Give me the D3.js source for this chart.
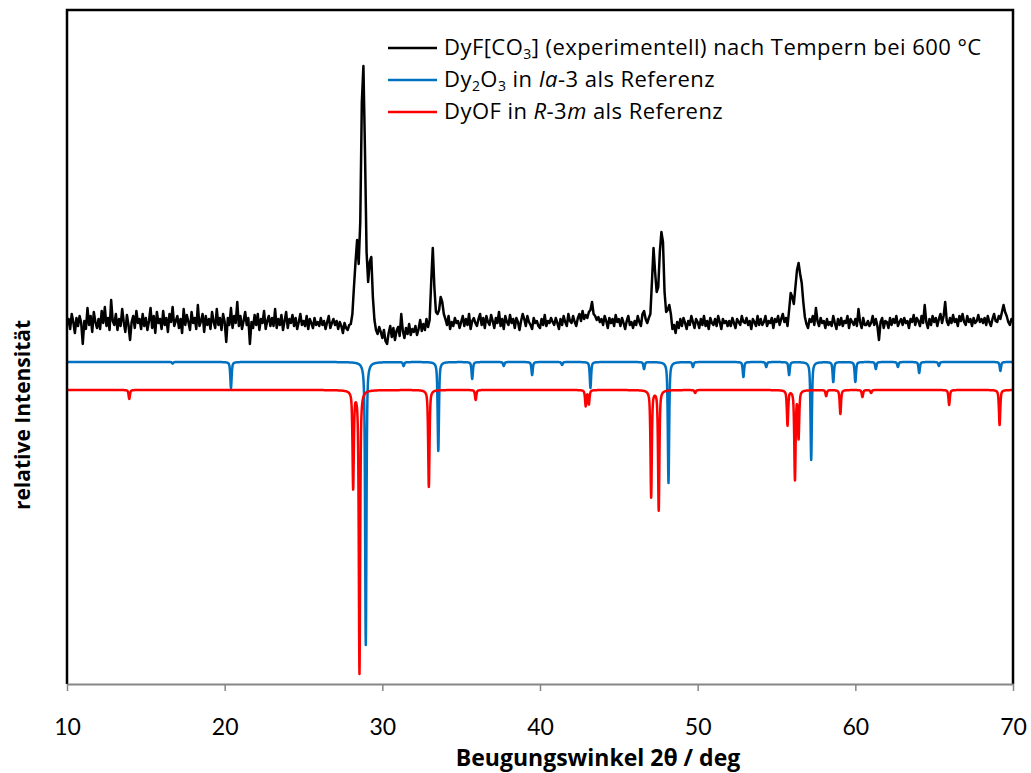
<!DOCTYPE html>
<html>
<head>
<meta charset="utf-8">
<script src="https://cdn.jsdelivr.net/npm/d3@7"></script>
<style>
  html, body { margin: 0; padding: 0; background: #fff; }
  svg { display: block; }
  text { font-family: "Open Sans", Lato, sans-serif; fill: #000; }
</style>
</head>
<body>
<svg id="chart" width="1031" height="773"></svg>
<script>
// ---- Data -------------------------------------------------------------
// 2θ range and tick labels
const xTicks = [10, 20, 30, 40, 50, 60, 70];

// Experimental pattern: 2θ start/step and counts (one row per degree)
const expStart = 10.0;
const expStep = 0.1;
const expCounts = [
  57,63,53,68,60,49,64,56,66,59,
  38,61,53,74,57,66,50,70,60,54,
  63,53,71,59,75,56,64,52,82,61,
  57,68,52,63,56,73,60,50,67,57,
  42,60,66,54,71,59,63,53,68,56,
  64,52,61,74,54,66,49,70,59,63,
  53,71,57,64,50,68,60,75,56,61,
  66,54,63,49,73,57,67,60,52,70,
  59,64,53,77,56,61,68,50,66,57,
  63,53,70,60,54,73,57,64,52,68,
  60,40,64,57,74,54,66,59,80,56,
  66,53,61,70,57,64,38,60,54,67,
  57,68,52,63,59,71,53,61,66,56,
  64,56,73,54,63,57,67,52,61,70,
  54,63,59,67,56,64,53,60,68,57,
  61,56,66,53,63,59,54,64,57,60,
  56,64,57,61,53,60,66,54,59,63,
  57,61,53,60,56,49,59,54,52,57,
  58,68,95,120,142,118,160,280,316,230,
  130,100,120,125,85,62,52,48,55,50,
  44,52,41,38,49,56,45,54,42,51,
  55,46,68,51,44,54,48,58,47,53,
  50,56,47,53,62,51,58,52,63,55,
  62,100,134,95,70,68,72,85,80,68,
  63,57,66,53,60,56,64,59,61,54,
  60,66,56,63,57,68,53,61,64,59,
  56,63,68,57,64,54,66,60,57,67,
  61,54,64,59,70,56,63,53,66,60,
  57,67,59,63,54,64,60,52,61,68,
  63,56,66,60,57,53,64,59,61,56,
  54,63,57,67,56,61,59,64,60,57,
  64,59,53,63,57,66,60,56,68,61,
  59,66,60,56,64,68,61,71,63,67,
  64,70,72,80,68,66,62,65,60,63,
  57,66,61,54,64,59,63,56,67,60,
  63,56,64,59,53,61,66,57,60,54,
  61,57,66,60,56,68,71,63,59,64,
  68,100,134,110,90,95,130,150,140,90,
  70,72,77,68,53,57,49,60,54,63,
  56,64,59,53,61,57,66,60,54,63,
  60,54,63,57,66,56,61,53,64,59,
  57,63,56,66,60,53,63,59,61,56,
  61,56,64,59,54,63,60,57,66,60,
  59,64,57,61,53,63,60,56,66,57,
  63,57,60,66,56,61,59,64,54,63,
  60,66,57,63,68,60,64,56,72,89,
  85,78,95,112,119,108,99,80,65,58,
  54,63,60,66,57,74,61,56,64,59,
  61,54,63,57,60,56,66,59,53,63,
  57,64,56,61,59,66,54,63,60,57,
  63,56,73,60,54,64,57,57,61,56,
  59,66,57,63,56,42,60,64,54,61,
  60,54,64,57,63,59,66,56,60,63,
  57,64,59,61,54,63,60,67,57,64,
  61,56,66,59,77,60,54,63,57,66,
  60,64,56,63,68,59,66,80,61,57,
  64,59,67,60,63,56,66,61,68,60,
  57,66,60,63,56,64,59,61,67,60,
  63,59,64,57,66,60,56,63,68,61,
  60,66,63,70,77,70,66,60,57,63,
  60
];

// Reference reflections: [2θ, intensity]
const dy2o3Peaks = [
  [16.7, 1.5], [20.4, 26], [28.95, 283], [31.35, 4], [33.55, 89], [35.7, 17],
  [37.7, 4], [39.5, 13], [41.4, 3], [43.2, 26], [46.6, 7], [48.15, 121],
  [49.7, 5], [52.9, 15], [54.35, 5], [55.8, 13], [57.2, 98], [58.6, 20],
  [60.0, 20], [61.3, 7], [62.7, 5], [64.05, 11], [65.3, 4], [69.2, 9]
];
const dyofPeaks = [
  [13.95, 9], [28.15, 97], [28.55, 283], [32.95, 97], [35.92, 10],
  [42.9, 16], [43.1, 14], [47.05, 107], [47.53, 120], [49.84, 3],
  [55.7, 35], [56.17, 89], [56.4, 47], [58.15, 6], [59.05, 24],
  [60.45, 7], [61.0, 3], [65.95, 15], [69.15, 35]
];

// Vertical stacking offsets (same units as intensities)
const expOffset = 302;
const dy2o3Base = 322;
const dyofBase = 294;

// ---- Layout -----------------------------------------------------------
const svg = d3.select("#chart");
const plot = { left: 67, right: 1013, top: 10, bottom: 684 };

const x = d3.scaleLinear().domain([10, 70]).range([plot.left, plot.right]);
const y = d3.scaleLinear().domain([0, 674]).range([plot.bottom, plot.top]);

svg.append("clipPath").attr("id", "clip")
  .append("rect")
  .attr("x", plot.left).attr("y", plot.top)
  .attr("width", plot.right - plot.left).attr("height", plot.bottom - plot.top);

// ---- Series -----------------------------------------------------------
const expData = expCounts.map((c, i) => [expStart + i * expStep, expOffset + c]);

// Simulated reference patterns: pseudo-Voigt profiles drawn downward
const fwhm = 0.1, eta = 0.6, hw = fwhm / 2;
function profile(peaks, base) {
  const pts = [];
  for (let i = 0; i <= 6000; i++) {
    const t = 10 + i * 0.01;
    let s = 0;
    for (const [p, h] of peaks) {
      const u = (t - p) / hw;
      if (Math.abs(u) > 60) continue;
      s += h * (eta / (1 + u * u) + (1 - eta) * Math.exp(-Math.LN2 * u * u));
    }
    pts.push([t, base - s]);
  }
  return pts;
}
const dy2o3Data = profile(dy2o3Peaks, dy2o3Base);
const dyofData = profile(dyofPeaks, dyofBase);

const line = d3.line().x(d => x(d[0])).y(d => y(d[1]));

const series = [
  { data: expData, color: "#000000" },
  { data: dy2o3Data, color: "#0070C0" },
  { data: dyofData, color: "#FF0000" }
];

const g = svg.append("g").attr("clip-path", "url(#clip)");
series.forEach(s => {
  g.append("path")
    .datum(s.data)
    .attr("d", line)
    .attr("fill", "none")
    .attr("stroke", s.color)
    .attr("stroke-width", 2.5)
    .attr("stroke-linejoin", "round");
});

// ---- Frame and axis ---------------------------------------------------
svg.append("path")
  .attr("d", `M${plot.left},${plot.bottom} V${plot.top} H${plot.right} V${plot.bottom}`)
  .attr("fill", "none").attr("stroke", "#000").attr("stroke-width", 2.5);

const xAxis = svg.append("g")
  .attr("transform", `translate(0,${plot.bottom})`)
  .call(d3.axisBottom(x).tickValues(xTicks).tickFormat(d3.format("d"))
    .tickSize(7).tickSizeOuter(0).tickPadding(28));
xAxis.select(".domain").attr("stroke", "#868686").attr("stroke-width", 2);
xAxis.selectAll(".tick line").attr("stroke", "#868686").attr("stroke-width", 1.5);
xAxis.selectAll(".tick text")
  .style("font-family", "Lato, sans-serif")
  .style("font-size", "23px").attr("fill", "#000");

// Axis titles
svg.append("text")
  .attr("x", 598).attr("y", 766)
  .attr("text-anchor", "middle")
  .style("font-size", "23px").style("font-weight", "bold")
  .text("Beugungswinkel 2θ / deg");

svg.append("text")
  .attr("transform", "translate(30,415) rotate(-90)")
  .attr("text-anchor", "middle")
  .style("font-size", "21px").style("font-weight", "bold")
  .text("relative Intensität");

// ---- Legend -----------------------------------------------------------
const legendItems = [
  { color: "#000000", y: 48, parts: [["DyF[CO"], ["3", "sub"], ["] (experimentell) nach Tempern bei 600 °C"]] },
  { color: "#0070C0", y: 80, parts: [["Dy"], ["2", "sub"], ["O"], ["3", "sub"], [" in "], ["Ia", "it"], ["-3 als Referenz"]] },
  { color: "#FF0000", y: 112, parts: [["DyOF in "], ["R", "it"], ["-3"], ["m", "it"], [" als Referenz"]] }
];
const legend = svg.append("g");
legendItems.forEach(item => {
  legend.append("line")
    .attr("x1", 388).attr("x2", 437)
    .attr("y1", item.y).attr("y2", item.y)
    .attr("stroke", item.color).attr("stroke-width", 2.5);
  const t = legend.append("text")
    .attr("x", 444).attr("y", item.y + 7)
    .style("font-size", "22px")
    .style("letter-spacing", "0.45px");
  let inSub = false;
  item.parts.forEach(([txt, kind]) => {
    const sp = t.append("tspan").text(txt);
    if (kind === "sub") {
      sp.attr("dy", inSub ? 0 : 4).style("font-size", "14px");
      inSub = true;
    } else {
      if (inSub) sp.attr("dy", -4);
      inSub = false;
      if (kind === "it") sp.style("font-style", "italic");
    }
  });
});
</script>
</body>
</html>
